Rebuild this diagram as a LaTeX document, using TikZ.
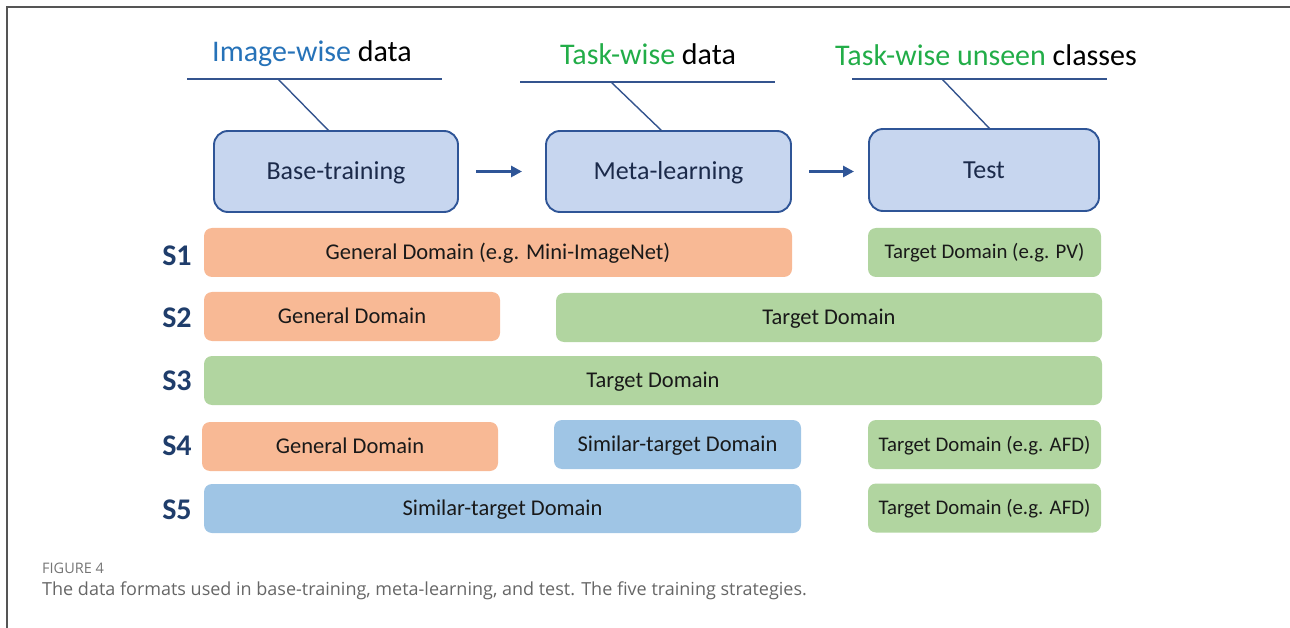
\documentclass[tikz,border=0pt]{standalone}
\usepackage{fontspec}
\setmainfont{Carlito}
\newfontfamily\capfont{Open Sans}
\usetikzlibrary{arrows.meta}
\definecolor{boxfill}{HTML}{C7D6EF}
\definecolor{boxline}{HTML}{2F5597}
\definecolor{linecol}{HTML}{34548E}
\definecolor{orangefill}{HTML}{F8B995}
\definecolor{greenfill}{HTML}{B1D5A0}
\definecolor{bluefill}{HTML}{9FC5E5}
\definecolor{slabel}{HTML}{1F3D6B}
\definecolor{boxtext}{HTML}{1B2A4A}
\definecolor{hblue}{HTML}{2672B8}
\definecolor{hgreen}{HTML}{22AD48}
\definecolor{framecol}{HTML}{555555}
\definecolor{capcol}{HTML}{666666}
\tikzset{
  stagebox/.style={draw=boxline, line width=1.9pt, fill=boxfill, rounded corners=14pt,
    inner sep=0pt, outer sep=0pt, text=boxtext, font=\fontsize{26}{30}\selectfont,
    text depth=0pt, text height=17pt},
  bar/.style={fill=#1, rounded corners=8pt, inner sep=0pt, outer sep=0pt,
    minimum height=49pt, text=black!90, font=\fontsize{22.5}{26}\selectfont,
    text height=14pt, text depth=0pt},
  smallbar/.style={bar=greenfill, font=\fontsize{20.8}{24}\selectfont, text height=13pt},
  slab/.style={text=slabel, font=\bfseries\fontsize{30}{34}\selectfont, inner sep=0pt},
  header/.style={font=\fontsize{30}{34}\selectfont, inner sep=0pt},
  hline/.style={draw=linecol, line width=1.4pt},
  flowarrow/.style={draw=boxline, line width=3pt, -{Triangle[length=11pt,width=11pt]}},
}
\begin{document}
\begin{tikzpicture}[x=1pt,y=-1pt]
\useasboundingbox (0,0) rectangle (1290,628);
% frame
\coordinate (fbl) at (7,628);
\coordinate (ftl) at (7,7);
\coordinate (ftr) at (1290,7);
\draw[framecol, line width=1.4pt] (fbl) -- (ftl) -- (ftr);

% headers
\node[header] (h1) at (312,54) {\textcolor{hblue}{Image-wise} data};
\node[header] (h2) at (648,54) {\textcolor{hgreen}{Task-wise} data};
\node[header] (h3) at (986,55) {\textcolor{hgreen}{Task-wise unseen} classes};

% stage boxes
\node[stagebox, minimum width=244pt, minimum height=81pt] (base) at (336,171.5) {Base-training};
\node[stagebox, minimum width=245pt, minimum height=81pt] (meta) at (668.5,171.5) {Meta-learning};
\node[stagebox, minimum width=230pt, minimum height=82pt] (test) at (984,170) {Test};

% header lines
\coordinate (l1a) at (187,79); \coordinate (l1b) at (442,79); \coordinate (d1) at (278,79);
\coordinate (l2a) at (520,82); \coordinate (l2b) at (775,82); \coordinate (d2) at (611,82);
\coordinate (l3a) at (852,79); \coordinate (l3b) at (1107,79); \coordinate (d3) at (942,79);
\draw[hline] (l1a) -- (l1b);
\draw[hline] (l2a) -- (l2b);
\draw[hline] (l3a) -- (l3b);
\draw[hline] (d1) -- ([xshift=-7pt]base.north);
\draw[hline] (d2) -- ([xshift=-6.5pt]meta.north);
\draw[hline] (d3) -- ([xshift=6pt]test.north);

% flow arrows
\draw[flowarrow] ([xshift=18pt]base.east) -- ([xshift=-24pt]meta.west);
\draw[flowarrow] ([xshift=18pt]meta.east) -- ([xshift=-15pt]meta.east -| test.west);

% strategy labels
\node[slab] (s1) at (177,256) {S1};
\node[slab] (s2) at (177,318) {S2};
\node[slab] (s3) at (177,381) {S3};
\node[slab] (s4) at (177,446) {S4};
\node[slab] (s5) at (177,510) {S5};

% S1
\node[bar=orangefill, minimum width=588pt] (s1a) at (498,252.5) {General Domain (e.g. Mini-ImageNet)};
\node[smallbar, minimum width=233pt] (s1b) at (984.5,252.5) {Target Domain (e.g. PV)};
% S2
\node[bar=orangefill, minimum width=296pt] (s2a) at (352,316.5) {General Domain};
\node[bar=greenfill, minimum width=546pt] (s2b) at (829,317.5) {Target Domain};
% S3
\node[bar=greenfill, minimum width=898pt] (s3a) at (653,380.5) {Target Domain};
% S4
\node[bar=orangefill, minimum width=296pt] (s4a) at (350,446.5) {General Domain};
\node[bar=bluefill, minimum width=247pt] (s4b) at (677.5,444.5) {Similar-target Domain};
\node[smallbar, minimum width=233pt] (s4c) at (984.5,444.5) {Target Domain (e.g. AFD)};
% S5
\node[bar=bluefill, minimum width=597pt] (s5a) at (502.5,508.5) {Similar-target Domain};
\node[smallbar, minimum width=233pt] (s5b) at (984.5,508) {Target Domain (e.g. AFD)};

% caption
\node[anchor=west, inner sep=0pt, text=capcol!90, font=\capfont\fontsize{14.5}{17}\selectfont] (figlab) at (42,568.5) {FIGURE 4};
\node[anchor=west, inner sep=0pt, text=capcol, font=\capfont\fontsize{18}{21}\selectfont] (cap) at (42,591) {The data formats used in base-training, meta-learning, and test. The five training strategies.};
\end{tikzpicture}
\end{document}
